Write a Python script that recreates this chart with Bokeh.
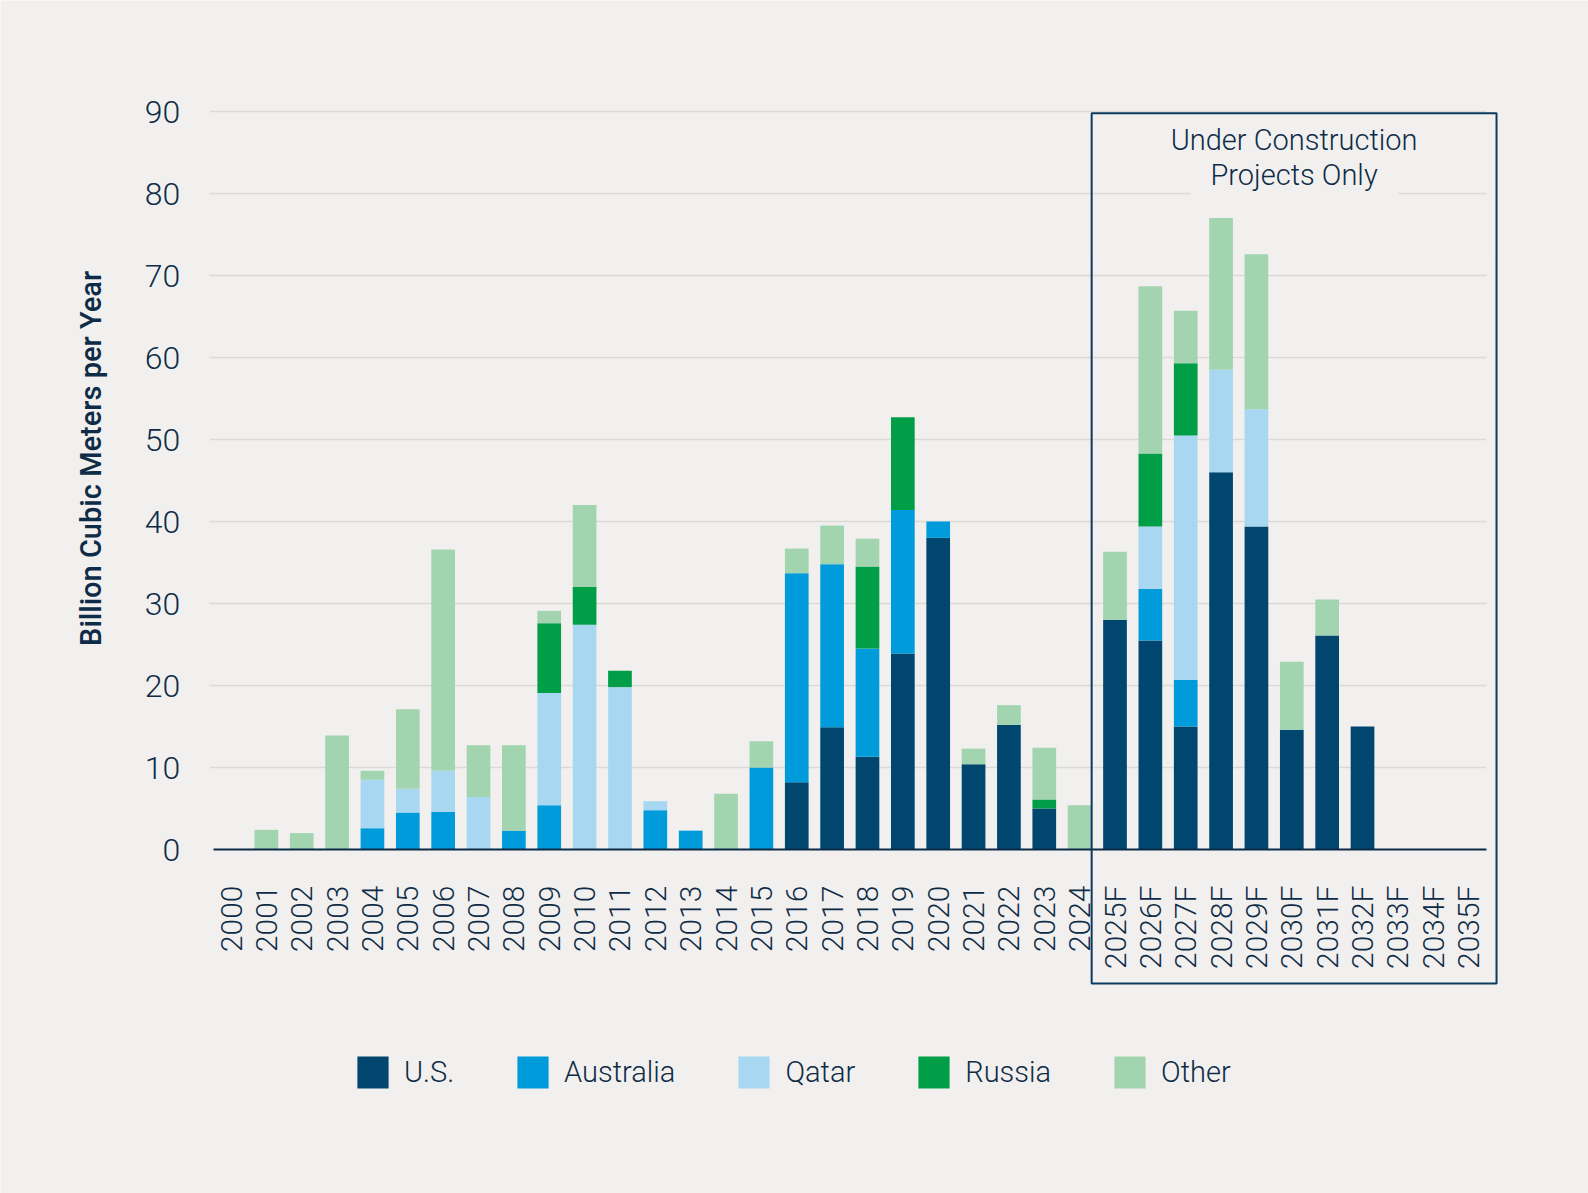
from math import pi

from bokeh.embed import file_html
from bokeh.models import (BoxAnnotation, ColumnDataSource, FixedTicker, Label, Legend,
                          LegendItem, Range1d)
from bokeh.plotting import figure
from bokeh.resources import INLINE

# LNG liquefaction capacity additions, billion cubic meters per year
years = ["2000", "2001", "2002", "2003", "2004", "2005", "2006", "2007", "2008", "2009",
         "2010", "2011", "2012", "2013", "2014", "2015", "2016", "2017", "2018", "2019",
         "2020", "2021", "2022", "2023", "2024", "2025F", "2026F", "2027F", "2028F",
         "2029F", "2030F", "2031F", "2032F", "2033F", "2034F", "2035F"]

us = [0, 0, 0, 0, 0, 0, 0, 0, 0, 0,
      0, 0, 0, 0, 0, 0, 8.2, 14.9, 11.3, 23.9,
      38.0, 10.4, 15.2, 5.0, 0, 28.0, 25.5, 15.0, 46.0,
      39.4, 14.6, 26.1, 15.0, 0, 0, 0]

australia = [0, 0, 0, 0, 2.6, 4.5, 4.6, 0, 2.3, 5.4,
             0, 0, 4.8, 2.3, 0, 10.0, 25.5, 19.9, 13.2, 17.5,
             2.0, 0, 0, 0, 0, 0, 6.3, 5.7, 0,
             0, 0, 0, 0, 0, 0, 0]

qatar = [0, 0, 0, 0, 5.9, 2.9, 5.0, 6.4, 0, 13.7,
         27.4, 19.8, 1.1, 0, 0, 0, 0, 0, 0, 0,
         0, 0, 0, 0, 0, 0, 7.6, 29.8, 12.5,
         14.3, 0, 0, 0, 0, 0, 0]

russia = [0, 0, 0, 0, 0, 0, 0, 0, 0, 8.5,
          4.6, 2.0, 0, 0, 0, 0, 0, 0, 10.0, 11.3,
          0, 0, 0, 1.1, 0, 0, 8.9, 8.8, 0,
          0, 0, 0, 0, 0, 0, 0]

other = [0, 2.4, 2.0, 13.9, 1.1, 9.7, 27.0, 6.3, 10.4, 1.5,
         10.0, 0, 0, 0, 6.8, 3.2, 3.0, 4.7, 3.4, 0,
         0, 1.9, 2.4, 6.3, 5.4, 8.3, 20.4, 6.4, 18.5,
         18.9, 8.3, 4.4, 0, 0, 0, 0]

series = ["us", "australia", "qatar", "russia", "other"]
series_labels = ["U.S.", "Australia", "Qatar", "Russia", "Other"]
colors = ["#00466F", "#009BDA", "#A8D8F1", "#009E47", "#A1D4AF"]
y_ticks = [0, 10, 20, 30, 40, 50, 60, 70, 80, 90]

BG = "#F2F0EE"
INK = "#0E2C47"
FONT = "Roboto Light, Roboto"
FONT_TITLE = "Roboto Medium, Roboto"

W, H = 1588, 1193
PX_PER_CAT = 35.36      # horizontal pixels per year slot
PX_PER_UNIT = 8.2       # vertical pixels per bcm/y
X_FIRST_PX = 230.5      # centre of the first slot
Y_ZERO_PX = 849         # baseline, measured from the top

xs = list(range(len(years)))
n = len(years)

source = ColumnDataSource(dict(x=xs, us=us, australia=australia, qatar=qatar,
                               russia=russia, other=other))

# the plotting frame covers the whole canvas so that the annotations
# placed around the bars (title, bracket box, legend) are not clipped
x_start = -X_FIRST_PX / PX_PER_CAT
y_end = Y_ZERO_PX / PX_PER_UNIT
p = figure(x_range=Range1d(x_start, x_start + W / PX_PER_CAT),
           y_range=Range1d(y_end - H / PX_PER_UNIT, y_end),
           width=W, height=H, min_border=0, output_backend="svg", toolbar_location=None,
           background_fill_color=BG, border_fill_color=BG, outline_line_color=None)
p.grid.visible = False

# horizontal gridlines, limited to the plotting area
grid_y = y_ticks[1:]
p.segment(x0=[-0.6] * len(grid_y), x1=[n - 0.5] * len(grid_y), y0=grid_y, y1=grid_y,
          line_color="#DBD9D7", line_width=1.5)

bars = p.vbar_stack(series, x="x", width=0.67, source=source,
                    fill_color=colors, line_color=None)

# axes
p.yaxis.fixed_location = -0.5
p.yaxis.bounds = (0, 90)
p.yaxis.ticker = FixedTicker(ticks=y_ticks)
p.yaxis.axis_line_color = None
p.yaxis.major_tick_line_color = None
p.yaxis.minor_tick_line_color = None
p.yaxis.major_tick_out = 0
p.yaxis.major_tick_in = 0
p.yaxis.major_label_standoff = 33
p.yaxis.major_label_text_font = FONT
p.yaxis.major_label_text_font_size = "32px"
p.yaxis.major_label_text_color = INK

p.xaxis.fixed_location = 0
p.xaxis.bounds = (-0.5, n - 0.5)
p.xaxis.ticker = FixedTicker(ticks=xs)
p.xaxis.major_label_overrides = dict(zip(xs, years))
p.xaxis.major_label_orientation = pi / 2
p.xaxis.axis_line_color = "#0B2B48"
p.xaxis.axis_line_width = 2
p.xaxis.major_tick_line_color = None
p.xaxis.minor_tick_line_color = None
p.xaxis.major_tick_out = 0
p.xaxis.major_tick_in = 0
p.xaxis.major_label_standoff = 36
p.xaxis.major_label_text_font = FONT
p.xaxis.major_label_text_font_size = "30px"
p.xaxis.major_label_text_color = INK

# y-axis title
p.add_layout(Label(x=-3.95, y=47.7, text="Billion Cubic Meters per Year", angle=pi / 2,
                   text_align="center", text_baseline="middle",
                   text_font=FONT_TITLE, text_font_size="29px", text_color=INK))

# bracket around the forecast years
first_fc = years.index("2025F")
box = BoxAnnotation(left=first_fc - 0.66, right=n - 1 + 0.79, top=89.8, bottom=-16.35,
                    fill_color=None, fill_alpha=0, line_color="#0B3A5E",
                    line_alpha=1, line_width=2)
p.add_layout(box)

xc = (box.left + box.right) / 2
p.add_layout(Label(x=xc, y=86.5, text="Under Construction", text_align="center",
                   text_baseline="alphabetic", text_font=FONT,
                   text_font_size="29px", text_color=INK))
p.add_layout(Label(x=xc, y=82.23, text="Projects Only", text_align="center",
                   text_baseline="alphabetic", text_font=FONT,
                   text_font_size="29px", text_color=INK,
                   background_fill_color=BG, padding=(20, 3)))

legend = Legend(items=[LegendItem(label=lab, renderers=[r])
                       for lab, r in zip(series_labels, bars)],
                orientation="horizontal", location=(353, 101),
                glyph_width=39, glyph_height=40, label_height=40, label_standoff=12,
                spacing=59, padding=0, margin=0, border_line_color=None,
                background_fill_alpha=0, label_text_font=FONT,
                label_text_font_size="29px", label_text_color=INK)
p.add_layout(legend)

open("out.html", "w").write(file_html(p, INLINE))
